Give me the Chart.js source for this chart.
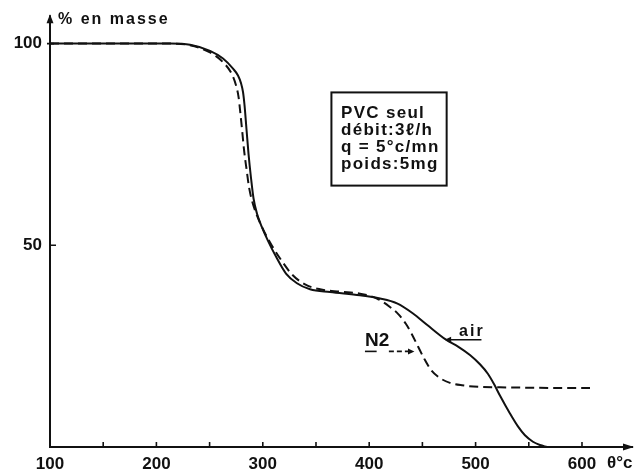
<!DOCTYPE html>
<html>
<head>
<meta charset="utf-8">
<script src="https://cdn.jsdelivr.net/npm/chart.js@4/dist/chart.umd.min.js"></script>
<style>
  html, body { margin: 0; padding: 0; background: #fff; }
  canvas { display: block; }
</style>
</head>
<body>
<canvas id="c" width="635" height="474"></canvas>
<script>
// ---- data (temperature °C, mass %) ----
const tempAir = [100, 196.8, 212.8, 231.6, 250.4, 262.6, 272.0, 276.7, 279.5, 281.4, 282.8, 284.7, 286.6, 289.0, 291.3, 294.5, 299.2, 304.9, 312.4, 321.8, 332.1, 344.4, 363.2, 391.4, 410.2, 426.1, 441.2, 454.3, 472.2, 483.5, 494.7, 504.1, 511.7, 517.3, 523.0, 532.3, 539.8, 546.4, 553.9, 560.5, 567.1];
const massAir = [100, 100, 100, 99.7, 98.2, 96.3, 93.8, 92.1, 90.2, 88.0, 84.8, 78.7, 72.6, 66.5, 61.6, 57.9, 54.5, 51.1, 47.2, 43.0, 40.6, 39.1, 38.4, 37.6, 36.8, 35.6, 33.1, 30.3, 26.6, 24.9, 22.8, 20.5, 18.1, 15.6, 12.7, 8.3, 5.1, 2.9, 1.3, 0.5, 0];

const tempN2 = [100, 196.8, 212.8, 231.6, 250.4, 262.6, 270.8, 274.8, 277.2, 278.6, 280.5, 282.3, 284.7, 287.0, 289.8, 294.5, 301.1, 308.6, 317.1, 327.4, 339.7, 353.8, 372.6, 391.4, 407.3, 419.5, 427.1, 434.6, 440.2, 445.9, 451.5, 458.1, 466.5, 475.9, 487.2, 504.1, 522.9, 551.1, 579.3, 607.5];
const massN2 = [100, 100, 100, 99.6, 97.8, 95.4, 92.5, 89.7, 86.8, 83.6, 78.7, 73.8, 68.9, 64.5, 61.1, 57.4, 53.5, 49.9, 46.4, 42.8, 40.3, 39.1, 38.5, 38.0, 36.8, 34.7, 33.0, 30.5, 27.9, 24.9, 22.0, 19.1, 17.1, 15.9, 15.3, 14.9, 14.8, 14.7, 14.6, 14.6];

const xTickLabels = [100, 200, 300, 400, 500, 600];
const xMinorTicks = [150, 200, 250, 300, 350, 400, 450, 500, 550, 600];
const yTickLabels = [50, 100];
const yAxisTitle = '% en masse';
const xAxisTitle = 'θ°c';
const infoLines = ['PVC seul', 'débit:3ℓ/h', 'q = 5°c/mn', 'poids:5mg'];
const seriesNames = ['air', 'N2'];

const INK = '#111';
const FONT = '"Liberation Sans", Arial, sans-serif';

const decor = {
  id: 'decor',
  afterDraw(chart) {
    const { ctx, chartArea: a, scales: { x, y } } = chart;
    const X = v => x.getPixelForValue(v);
    const Y = v => y.getPixelForValue(v);
    ctx.save();
    ctx.strokeStyle = INK;
    ctx.fillStyle = INK;
    ctx.lineWidth = 2;

    // axis arrows
    ctx.beginPath();
    ctx.moveTo(a.left, a.top + 6);
    ctx.lineTo(a.left, a.top - 3);
    ctx.stroke();
    ctx.beginPath();
    ctx.moveTo(a.left, a.top - 4);
    ctx.lineTo(a.left - 3.5, a.top + 5);
    ctx.lineTo(a.left + 3.5, a.top + 5);
    ctx.closePath();
    ctx.fill();
    ctx.beginPath();
    ctx.moveTo(a.right + 2, a.bottom);
    ctx.lineTo(a.right - 9, a.bottom - 3.5);
    ctx.lineTo(a.right - 9, a.bottom + 3.5);
    ctx.closePath();
    ctx.fill();

    // tick marks
    ctx.lineWidth = 1.6;
    xMinorTicks.forEach(v => {
      const px = X(v);
      ctx.beginPath();
      ctx.moveTo(px, a.bottom);
      ctx.lineTo(px, a.bottom - 5);
      ctx.stroke();
    });
    ctx.beginPath();
    ctx.moveTo(a.left - 3, Y(100)); ctx.lineTo(a.left + 4, Y(100));
    ctx.moveTo(a.left, Y(50)); ctx.lineTo(a.left + 6, Y(50));
    ctx.stroke();

    // axis titles
    ctx.textBaseline = 'middle';
    ctx.textAlign = 'left';
    ctx.font = 'bold 16px ' + FONT;
    ctx.letterSpacing = '2px';
    ctx.fillText(yAxisTitle, a.left + 8, 20);
    ctx.letterSpacing = '0px';
    ctx.font = 'bold 17px ' + FONT;
    ctx.textAlign = 'center';
    ctx.fillText(xAxisTitle, X(635.5), a.bottom + 16);

    // info box
    ctx.lineWidth = 2;
    const bx0 = X(364.5), bx1 = X(472.8), by0 = Y(87.9), by1 = Y(64.8);
    ctx.strokeRect(bx0, by0, bx1 - bx0, by1 - by0);
    ctx.textAlign = 'left';
    ctx.font = 'bold 17px ' + FONT;
    ctx.letterSpacing = '1.3px';
    const lineVals = [82.8, 78.4, 74.2, 70.1];
    infoLines.forEach((t, i) => ctx.fillText(t, X(373.5), Y(lineVals[i])));
    ctx.letterSpacing = '0px';

    // "air" label and arrow
    ctx.font = 'bold 16px ' + FONT;
    ctx.letterSpacing = '2px';
    ctx.textAlign = 'center';
    ctx.fillText(seriesNames[0], X(496.5), Y(28.6));
    ctx.letterSpacing = '0px';
    ctx.lineWidth = 1.6;
    ctx.beginPath();
    ctx.moveTo(X(505.5), Y(26.6));
    ctx.lineTo(X(473), Y(26.6));
    ctx.stroke();
    ctx.beginPath();
    ctx.moveTo(X(471), Y(26.6));
    ctx.lineTo(X(477), Y(26.6) - 3);
    ctx.lineTo(X(477), Y(26.6) + 3);
    ctx.closePath();
    ctx.fill();

    // "N2" label and dashed arrow
    ctx.font = 'bold 19px ' + FONT;
    ctx.textAlign = 'left';
    ctx.fillText(seriesNames[1], X(396), Y(26.4));
    ctx.beginPath();
    ctx.moveTo(X(396), Y(23.7));
    ctx.lineTo(X(407), Y(23.7));
    ctx.stroke();
    ctx.setLineDash([5, 3]);
    ctx.beginPath();
    ctx.moveTo(X(418.5), Y(23.7));
    ctx.lineTo(X(439), Y(23.7));
    ctx.stroke();
    ctx.setLineDash([]);
    ctx.beginPath();
    ctx.moveTo(X(442.5), Y(23.7));
    ctx.lineTo(X(436.5), Y(23.7) - 3);
    ctx.lineTo(X(436.5), Y(23.7) + 3);
    ctx.closePath();
    ctx.fill();

    ctx.restore();
  }
};

new Chart(document.getElementById('c'), {
  type: 'line',
  data: {
    datasets: [
      {
        label: seriesNames[0],
        data: tempAir.map((t, i) => ({ x: t, y: massAir[i] })),
        borderColor: INK,
        borderWidth: 2,
        pointRadius: 0,
        cubicInterpolationMode: 'monotone',
        fill: false
      },
      {
        label: seriesNames[1],
        data: tempN2.map((t, i) => ({ x: t, y: massN2[i] })),
        borderColor: INK,
        borderWidth: 2,
        borderDash: [9, 5],
        pointRadius: 0,
        cubicInterpolationMode: 'monotone',
        fill: false
      }
    ]
  },
  options: {
    responsive: false,
    animation: false,
    devicePixelRatio: 1,
    layout: { padding: { top: 12, right: 3, left: 0, bottom: 0 } },
    plugins: { legend: { display: false }, tooltip: { enabled: false } },
    scales: {
      x: {
        type: 'linear',
        min: 100,
        max: 647,
        afterFit(s) { s.height = 27; },
        afterBuildTicks(s) { s.ticks = xTickLabels.map(v => ({ value: v })); },
        grid: { display: false, drawTicks: false },
        border: { display: true, color: INK, width: 2 },
        ticks: {
          padding: 7,
          color: INK,
          font: { family: FONT, size: 17, weight: 'bold' },
          maxRotation: 0,
          autoSkip: false
        }
      },
      y: {
        type: 'linear',
        min: 0,
        max: 106.3,
        afterFit(s) { s.width = 50; },
        afterBuildTicks(s) { s.ticks = yTickLabels.map(v => ({ value: v })); },
        grid: { display: false, drawTicks: false },
        border: { display: true, color: INK, width: 2 },
        ticks: {
          padding: 8,
          color: INK,
          font: { family: FONT, size: 17, weight: 'bold' }
        }
      }
    }
  },
  plugins: [decor]
});
</script>
</body>
</html>
